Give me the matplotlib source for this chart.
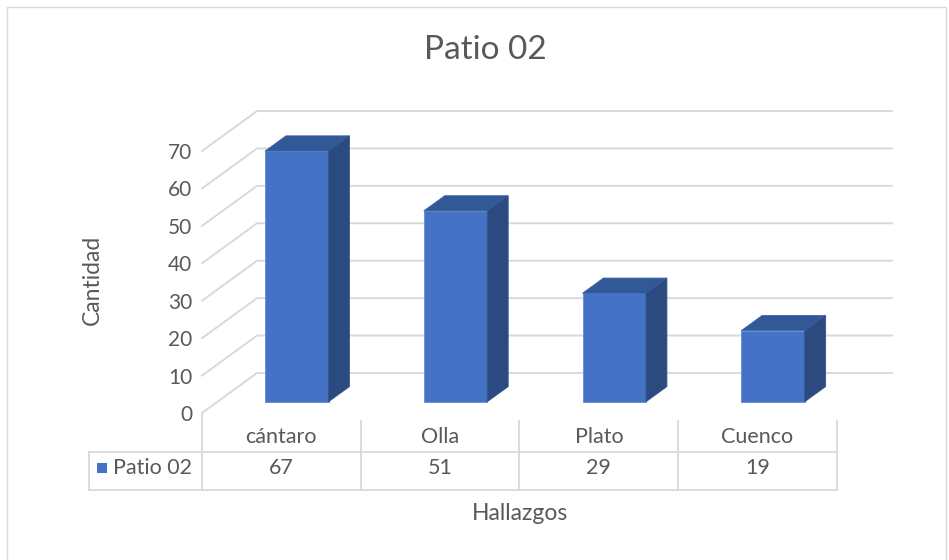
import matplotlib.pyplot as plt
from matplotlib.patches import Polygon, Rectangle
import numpy as np

plt.rcParams['font.family'] = ['Lato', 'DejaVu Sans']

# data
categories = ['cántaro', 'Olla', 'Plato', 'Cuenco']
values = [67, 51, 29, 19]
series_name = 'Patio 02'
yticks = [0, 10, 20, 30, 40, 50, 60, 70]

TXT = '#595959'
GRID = '#d9d9d9'

W, H = 949, 560
fig = plt.figure(figsize=(W / 100, H / 100), dpi=100)

# plot area in pixels: front-left zero and back-right top
x0, x1 = 202, 892
y0, y1 = 413, 111
ax = fig.add_axes([x0 / W, 1 - y0 / H, (x1 - x0) / W, (y0 - y1) / H])

n = len(categories)
DX = 0.347   # depth shift along x (category units)
DY = 10.7    # depth shift along y (value units)
ax.set_xlim(-0.5, n - 0.5 + DX)
ax.set_ylim(0, max(yticks) + DY)
vpp = (max(yticks) + DY) / (y0 - y1)   # value units per pixel
xpp = (n + DX) / (x1 - x0)             # category units per pixel

# floor / back wall gridlines
for v in yticks:
    ax.plot([-0.5, -0.5 + DX, n - 0.5 + DX], [v, v + DY, v + DY],
            color=GRID, lw=1.4, zorder=0, clip_on=False)

# 3d bars
d0, d1 = 0.28, 0.66
bw = 0.4
xs = np.arange(n)
b0 = d0 * DY
ddx, ddy = (d1 - d0) * DX, (d1 - d0) * DY
ax.bar(xs + d0 * DX, values, width=bw, bottom=b0, color='#4472C4',
       edgecolor='#6a93da', lw=0.7, zorder=3)
for x, v in zip(xs + d0 * DX, values):
    xl, xr = x - bw / 2, x + bw / 2
    top = Polygon([(xl, v + b0), (xr, v + b0), (xr + ddx, v + b0 + ddy),
                   (xl + ddx, v + b0 + ddy)], closed=True,
                  facecolor='#335898', edgecolor='#3d64a8', lw=0.6, zorder=3)
    side = Polygon([(xr, b0), (xr + ddx, b0 + ddy), (xr + ddx, v + b0 + ddy),
                    (xr, v + b0)], closed=True,
                   facecolor='#2b4a80', edgecolor='#34578f', lw=0.6, zorder=3)
    ax.add_patch(top)
    ax.add_patch(side)

ax.set_yticks(yticks)
ax.set_xticks([])
ax.tick_params(axis='y', length=0, pad=7, labelsize=15, labelcolor=TXT)
for s in ax.spines.values():
    s.set_visible(False)
ax.patch.set_alpha(0)

# data table under the chart
def py(px):
    return (y0 - px) * vpp

def px_x(px):
    return -0.5 + (px - x0) * xpp

for i in range(n + 1):
    top_px = 413 if i == 0 else 421
    ax.plot([i - 0.5, i - 0.5], [py(top_px), py(490)], color=GRID, lw=1.3,
            clip_on=False)
for rpx in (452, 490):
    ax.plot([px_x(89), n - 0.5], [py(rpx), py(rpx)], color=GRID, lw=1.3,
            clip_on=False)
ax.plot([px_x(89), px_x(89)], [py(452), py(490)], color=GRID, lw=1.3,
        clip_on=False)

for i, (c, v) in enumerate(zip(categories, values)):
    ax.text(i, py(437), c, ha='center', va='center', fontsize=15.5, color=TXT,
            clip_on=False)
    ax.text(i, py(468), str(v), ha='center', va='center', fontsize=15.5,
            color=TXT, clip_on=False)

ax.add_patch(Rectangle((px_x(97), py(473)), 10 * xpp, 10 * vpp,
                       facecolor='#4472C4', edgecolor='none', clip_on=False))
ax.text(px_x(113), py(468), series_name, ha='left', va='center',
        fontsize=15.5, color=TXT, clip_on=False)

# titles
fig.text(485 / W, 1 - 50 / H, 'Patio 02', ha='center', va='center',
         fontsize=24, color=TXT)
fig.text(520 / W, 1 - 513 / H, 'Hallazgos', ha='center', va='center',
         fontsize=16.5, color=TXT)
fig.text(92 / W, 1 - 280 / H, 'Cantidad', ha='center', va='center',
         rotation=90, fontsize=16.5, color=TXT)

# chart border
fig.patches.append(Rectangle((7 / W, -0.01), 939 / W, 1 - 7 / H + 0.01,
                             transform=fig.transFigure, fill=False,
                             edgecolor=GRID, lw=1))

fig.savefig('out.png', dpi=100, facecolor='white')
